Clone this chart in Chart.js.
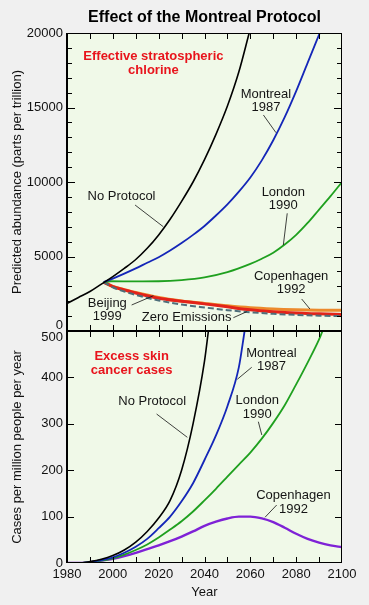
<!DOCTYPE html>
<html><head><meta charset="utf-8">
<script src="https://cdn.jsdelivr.net/npm/chart.js@4.4.1/dist/chart.umd.min.js"></script>
<style>
html,body{margin:0;padding:0;background:#f0f0f0;width:369px;height:605px;overflow:hidden;}
#wrapTop{position:absolute;left:0;top:0;width:369px;height:351px;}
#wrapBot{position:absolute;left:0;top:300px;width:369px;height:305px;}
</style></head><body>
<div id="wrapTop"><canvas id="top"></canvas></div>
<div id="wrapBot"><canvas id="bot"></canvas></div>
<script>
const FONT = "'Liberation Sans', Arial, Helvetica, sans-serif";

// ---------- Top panel: effective stratospheric chlorine (parts per trillion)
const clNoProtocolYears = [1980,1985,1990,1995,2000,2005,2010,2015,2020,2025,2030,2035,2040,2045,2050,2055,2059.5];
const clNoProtocol      = [1850,2250,2650,3150,3650,4200,4800,5550,6450,7500,8700,10000,11500,13200,15100,17400,20000];
const clMontrealYears = [1996,2000,2005,2010,2015,2020,2025,2030,2035,2040,2045,2050,2055,2060,2065,2070,2075,2080,2085,2090.3];
const clMontreal      = [3280,3520,3850,4200,4580,4950,5400,5900,6450,7050,7750,8500,9350,10300,11450,12800,14350,16100,18000,20000];
const clLondonYears = [1996,1999,2010,2020,2030,2040,2050,2060,2065,2070,2075,2080,2085,2090,2095,2100];
const clLondon      = [3280,3340,3330,3340,3420,3600,3950,4500,4850,5250,5800,6450,7250,8150,9050,10000];
const clBeijingYears = [1996,2000,2005,2010,2020,2030,2040,2050,2060,2070,2080,2090,2100];
const clBeijing      = [3280,2980,2760,2550,2200,2000,1820,1620,1420,1290,1200,1150,1100];
const clCopenhagenYears = [1996,2000,2005,2010,2020,2030,2040,2050,2060,2070,2080,2090,2100];
const clCopenhagen      = [3280,2990,2780,2580,2250,2020,1850,1690,1560,1480,1430,1400,1390];
const clZeroYears = [1996,2000,2005,2010,2020,2030,2040,2050,2060,2070,2080,2090,2100];
const clZero      = [3280,2930,2650,2420,2050,1780,1580,1400,1260,1150,1080,1030,1000];

// ---------- Bottom panel: excess skin cancer cases (per million people per year)
const skNoProtocolYears = [1980,1985,1990,1995,2000,2005,2010,2015,2020,2025,2030,2035,2040,2041.7];
const skNoProtocol      = [0,0,3,8,16,28,45,68,97,135,200,300,435,500];
const skMontrealYears = [1980,1985,1990,1995,2000,2005,2010,2015,2020,2025,2030,2035,2040,2045,2050,2055,2057.5];
const skMontreal      = [0,0,2,6,12,22,35,52,75,100,133,172,222,275,338,422,500];
const skLondonYears = [1980,1985,1990,1995,2000,2005,2010,2015,2020,2025,2030,2035,2040,2045,2050,2055,2060,2065,2070,2075,2080,2085,2090,2091.5];
const skLondon      = [0,0,2,5,10,18,28,40,55,72,90,111,135,160,186,212,238,268,302,340,385,432,482,500];
const skCopenhagenYears = [1980,1985,1990,1995,2000,2005,2010,2015,2020,2025,2030,2035,2040,2045,2050,2055,2060,2065,2070,2075,2080,2085,2090,2095,2100];
const skCopenhagen      = [0,0,2,5,9,15,22,30,38,47,57,68,80,89,96,100,100,96,88,76,63,52,44,38,34];

// ---------- Axis / tick labels
const yearMin = 1980, yearMax = 2100, yearStep = 10, yearLabelEvery = 20;
const clMin = 0, clMax = 20000, clStep = 1000, clLabelEvery = 5000;
const skMin = 0, skMax = 500, skStep = 100;
const titleText = 'Effect of the Montreal Protocol';
const clAxisTitle = 'Predicted abundance (parts per trillion)';
const skAxisTitle = 'Cases per million people per year';
const xAxisTitle = 'Year';

// ---------- Annotations (data coordinates)
const topNotes = [
  {text:['Effective stratospheric','chlorine'], x:2017.7, y:18410, red:true},
  {text:['Montreal','1987'], x:2066.8, y:15906},
  {text:['No Protocol'], x:2003.8, y:9013},
  {text:['London','1990'], x:2074.4, y:9309},
  {text:['Copenhagen','1992'], x:2077.8, y:3691},
  {text:['Beijing','1999'], x:1997.6, y:1859},
  {text:['Zero Emissions'], x:2032.2, y:919}
];
const topLeaders = [
  [2065.7,14497,2071.2,13309],
  [2009.7,8456,2022.0,7000],
  [2076.1,7899,2074.4,5772],
  [2082.4,2148,2086.0,1477],
  [2008.2,1745,2017.7,2369],
  [2052.6,893,2058.4,1295]
];
const botNotes = [
  {text:['Excess skin','cancer cases'], x:2008.2, y:444.6, red:true},
  {text:['No Protocol'], x:2017.2, y:349.1},
  {text:['Montreal','1987'], x:2069.2, y:451.9},
  {text:['London','1990'], x:2063.0, y:349.8},
  {text:['Copenhagen','1992'], x:2078.8, y:145.0}
];
const botLeaders = [
  [2019.1,321.1,2032.5,270.9],
  [2060.6,421.8,2054.3,395.9],
  [2063.5,304.5,2065.0,275.9],
  [2071.5,125,2066.4,98.5]
];

function pts(xs, ys){ return xs.map((x,i)=>({x:x, y:ys[i]})); }

const panelPlugin = {
  id: 'panel',
  beforeDraw(chart) {
    const {ctx, chartArea: a} = chart;
    ctx.save();
    ctx.fillStyle = '#f0f9e8';
    ctx.fillRect(a.left, a.top, a.right - a.left, a.bottom - a.top);
    ctx.restore();
  },
  afterDatasetsDraw(chart, args, opts) {
    const {ctx, chartArea: a} = chart;
    const x = chart.scales.x, y = chart.scales.y;
    ctx.save();
    ctx.strokeStyle = '#000';
    ctx.lineWidth = 1;
    ctx.beginPath();
    x.ticks.forEach(t => {
      const px = Math.round(x.getPixelForValue(t.value)) + 0.5;
      if (px < a.left + 2 || px > a.right - 2) return;
      ctx.moveTo(px, a.top); ctx.lineTo(px, a.top + 6);
      ctx.moveTo(px, a.bottom); ctx.lineTo(px, a.bottom - 6);
    });
    y.ticks.forEach(t => {
      const py = Math.round(y.getPixelForValue(t.value)) + 0.5;
      if (py < a.top + 2 || py > a.bottom - 2) return;
      const len = (t.value % opts.majorEvery === 0) ? opts.majorLen : opts.minorLen;
      ctx.moveTo(a.left, py); ctx.lineTo(a.left + len, py);
      ctx.moveTo(a.right, py); ctx.lineTo(a.right - len, py);
    });
    ctx.stroke();
    // frame
    const L = Math.round(a.left), R = Math.round(a.right), T = Math.round(a.top), B = Math.round(a.bottom);
    ctx.beginPath();
    ctx.moveTo(L, T + 0.5); ctx.lineTo(R, T + 0.5);
    ctx.moveTo(R - 0.5, T); ctx.lineTo(R - 0.5, B);
    ctx.moveTo(L, B - 0.5); ctx.lineTo(R, B - 0.5);
    ctx.stroke();
    ctx.lineWidth = 2;
    ctx.beginPath();
    ctx.moveTo(L, T); ctx.lineTo(L, B);
    ctx.stroke();
    // leaders
    ctx.lineWidth = 0.8;
    ctx.strokeStyle = '#111';
    ctx.beginPath();
    (opts.leaders || []).forEach(l => {
      ctx.moveTo(x.getPixelForValue(l[0]), y.getPixelForValue(l[1]));
      ctx.lineTo(x.getPixelForValue(l[2]), y.getPixelForValue(l[3]));
    });
    ctx.stroke();
    // notes
    ctx.textAlign = 'center';
    ctx.textBaseline = 'middle';
    (opts.notes || []).forEach(n => {
      ctx.font = (n.red ? 'bold ' : '') + '13px ' + FONT;
      ctx.fillStyle = n.red ? '#e8141c' : '#151515';
      const px = x.getPixelForValue(n.x), py = y.getPixelForValue(n.y);
      n.text.forEach((s, i) => ctx.fillText(s, px, py + i * 13.3));
    });
    ctx.restore();
  }
};

Chart.defaults.font.family = FONT;
Chart.defaults.color = '#111';
Chart.defaults.animation = false;

function ds(label, xs, ys, color, w, dash) {
  return {label, data: pts(xs, ys), borderColor: color, borderWidth: w,
    borderDash: dash || [], pointRadius: 0, fill: false, cubicInterpolationMode: 'monotone'};
}

new Chart(document.getElementById('top'), {
  type: 'line',
  data: { datasets: [
    ds('No Protocol', clNoProtocolYears, clNoProtocol, '#000000', 1.6),
    ds('Montreal 1987', clMontrealYears, clMontreal, '#1426b8', 1.8),
    ds('London 1990', clLondonYears, clLondon, '#1fa01f', 1.8),
    ds('Zero Emissions', clZeroYears, clZero, '#4e6e7a', 2, [6,3]),
    ds('Beijing 1999', clBeijingYears, clBeijing, '#e3231a', 3),
    ds('Copenhagen 1992', clCopenhagenYears, clCopenhagen, '#ec8a2c', 3)
  ]},
  options: {
    responsive: true, maintainAspectRatio: false, devicePixelRatio: 1,
    layout: { padding: {left: 0, right: 27, top: 0, bottom: 20} },
    plugins: {
      legend: {display: false}, tooltip: {enabled: false},
      title: {display: true, text: titleText, fullSize: false, color: '#000',
        font: {size: 16, weight: 'bold', family: FONT, lineHeight: 1.2},
        padding: {top: 8.4, bottom: 5.4}},
      panel: {notes: topNotes, leaders: topLeaders, majorEvery: clLabelEvery, majorLen: 8, minorLen: 5}
    },
    scales: {
      x: {type: 'linear', min: yearMin, max: yearMax, display: false,
        ticks: {stepSize: yearStep, autoSkip: false}},
      y: {type: 'linear', min: clMin, max: clMax,
        grid: {display: false, drawTicks: false}, border: {display: false},
        ticks: {stepSize: clStep, padding: 4, color: '#111', autoSkip: false,
          font: {size: 13, family: FONT, lineHeight: '12px'},
          callback: v => v % clLabelEvery === 0 ? (v === 0 ? ['0', ''] : String(v)) : ''},
        title: {display: true, text: clAxisTitle, color: '#111',
          font: {size: 13, family: FONT, lineHeight: 1.2}, padding: {top: 9.2, bottom: 0}},
        afterFit: s => { s.width = 67; }
      }
    }
  },
  plugins: [panelPlugin]
});

new Chart(document.getElementById('bot'), {
  type: 'line',
  data: { datasets: [
    ds('No Protocol', skNoProtocolYears, skNoProtocol, '#000000', 1.6),
    ds('Montreal 1987', skMontrealYears, skMontreal, '#1426b8', 1.8),
    ds('London 1990', skLondonYears, skLondon, '#1fa01f', 1.8),
    ds('Copenhagen 1992', skCopenhagenYears, skCopenhagen, '#7f22d6', 2.4)
  ]},
  options: {
    responsive: true, maintainAspectRatio: false, devicePixelRatio: 1,
    layout: { padding: {left: 0, right: 27, top: 31, bottom: 0} },
    plugins: {
      legend: {display: false}, tooltip: {enabled: false},
      panel: {notes: botNotes, leaders: botLeaders, majorEvery: skStep, majorLen: 7, minorLen: 7}
    },
    scales: {
      x: {type: 'linear', min: yearMin, max: yearMax,
        grid: {display: false, drawTicks: false}, border: {display: false},
        ticks: {stepSize: yearStep, padding: 4, autoSkip: false, maxRotation: 0, minRotation: 0,
          color: '#111', font: {size: 13, family: FONT},
          callback: v => v % yearLabelEvery === 0 ? String(v) : ''},
        title: {display: true, text: xAxisTitle, color: '#111',
          font: {size: 13, family: FONT, lineHeight: 1.2}, padding: {top: 0, bottom: 5}},
        afterFit: s => { s.height = 42; }
      },
      y: {type: 'linear', min: skMin, max: skMax,
        grid: {display: false, drawTicks: false}, border: {display: false},
        ticks: {stepSize: skStep, padding: 4, color: '#111', autoSkip: false,
          font: {size: 13, family: FONT, lineHeight: '12px'},
          callback: v => v === skMax ? ['', String(v)] : String(v)},
        title: {display: true, text: skAxisTitle, color: '#111',
          font: {size: 13, family: FONT, lineHeight: 1.2}, padding: {top: 9.2, bottom: 0}},
        afterFit: s => { s.width = 67; }
      }
    }
  },
  plugins: [panelPlugin]
});
</script>
</body></html>
